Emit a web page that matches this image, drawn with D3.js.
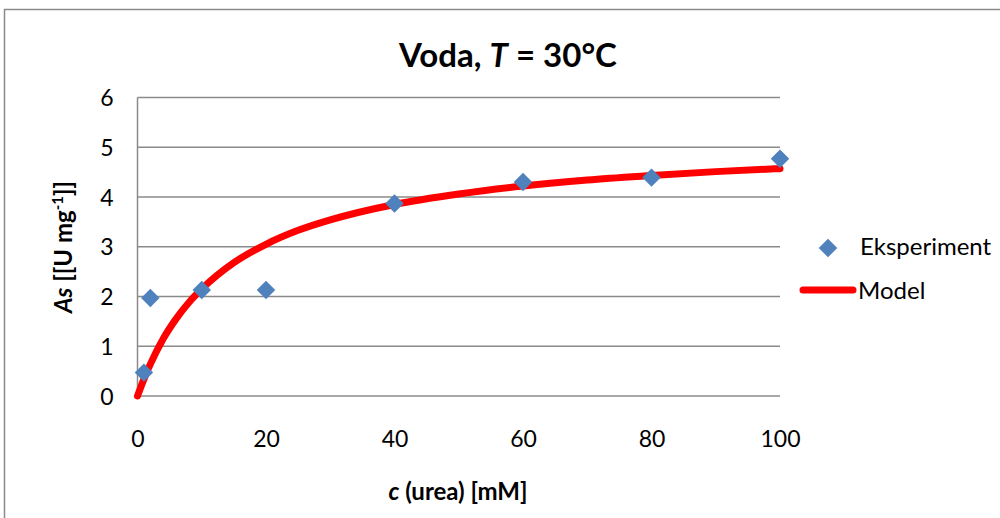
<!DOCTYPE html>
<html><head><meta charset="utf-8">
<script src="https://cdn.jsdelivr.net/npm/d3@7"></script>
<style>body{margin:0;background:#fff}svg{display:block;font-family:Lato,"Open Sans",sans-serif}</style>
</head><body><svg id="c" width="1000" height="518"></svg>
<script>
// Data
const expC = [1, 2, 10, 20, 40, 60, 80, 100];
const expAs = [0.47, 1.97, 2.13, 2.13, 3.87, 4.30, 4.39, 4.77];
const modelC = [0, 1, 2, 4, 6, 8, 10, 15, 20, 25, 30, 40, 50, 60, 70, 80, 90, 100];
const modelAs = [0, 0.34, 0.64, 1.15, 1.55, 1.88, 2.15, 2.68, 3.05, 3.33, 3.54, 3.85, 4.06, 4.22, 4.34, 4.43, 4.51, 4.57];
const xTicks = [0, 20, 40, 60, 80, 100];
const yTicks = [0, 1, 2, 3, 4, 5, 6];
const seriesNames = ["Eksperiment", "Model"];

const svg = d3.select("#c");
const W = 1000, H = 518;
const x = d3.scaleLinear().domain([0, 100]).range([137.5, 780]);
const y = d3.scaleLinear().domain([0, 6]).range([396, 97.5]);
const grid = "#8a8a8a";

// outer border
svg.append("rect").attr("x", 4.5).attr("y", 9.5).attr("width", W).attr("height", H)
  .attr("fill", "none").attr("stroke", "#8a8a8a").attr("stroke-width", 1.5);

// gridlines
svg.append("g").selectAll("line").data(yTicks).join("line")
  .attr("x1", x(0)).attr("x2", x(100)).attr("y1", d => y(d)).attr("y2", d => y(d))
  .attr("stroke", grid).attr("stroke-width", 1.5);
svg.append("line").attr("x1", x(0)).attr("x2", x(0)).attr("y1", y(0)).attr("y2", y(6))
  .attr("stroke", grid).attr("stroke-width", 1.5);

// y tick labels
const yAxis = svg.append("g").attr("transform", `translate(${x(0)},0)`)
  .call(d3.axisLeft(y).tickValues(yTicks).tickFormat(d3.format("d")).tickSize(0).tickPadding(24));
yAxis.select(".domain").remove();
yAxis.selectAll("text").attr("font-size", 23).attr("fill", "#000").attr("font-family", "Lato").attr("dy", "0.35em");

// x tick labels
const xAxis = svg.append("g").attr("transform", `translate(0,${y(0)})`)
  .call(d3.axisBottom(x).tickValues(xTicks).tickFormat(d3.format("d")).tickSize(0).tickPadding(51));
xAxis.select(".domain").remove();
xAxis.selectAll("text").attr("font-size", 23).attr("fill", "#000").attr("font-family", "Lato").attr("dy", "0");

// model line
const line = d3.line().x(d => x(d[0])).y(d => y(d[1])).curve(d3.curveMonotoneX);
svg.append("path").datum(modelC.map((c, i) => [c, modelAs[i]]))
  .attr("d", line).attr("fill", "none").attr("stroke", "#ff0000").attr("stroke-width", 7)
  .attr("stroke-linecap", "round");

// experiment diamonds
const diamond = d3.symbol().type(d3.symbolSquare).size(170);
svg.append("g").selectAll("path").data(expC.map((c, i) => [c, expAs[i]])).join("path")
  .attr("d", diamond)
  .attr("transform", d => `translate(${x(d[0])},${y(d[1])}) rotate(45)`)
  .attr("fill", "#4f81bd");

// title
const t = svg.append("text").attr("x", 508).attr("y", 67).attr("text-anchor", "middle")
  .attr("font-size", 33).attr("font-weight", "bold");
t.append("tspan").text("Voda, ");
t.append("tspan").attr("font-style", "italic").text("T");
t.append("tspan").text(" = 30°C");

// x axis title
const xt = svg.append("text").attr("x", 458).attr("y", 500).attr("text-anchor", "middle")
  .attr("font-size", 24).attr("font-weight", "bold");
xt.append("tspan").attr("font-style", "italic").text("c");
xt.append("tspan").text(" (urea) [mM]");

// y axis title
const yt = svg.append("text").attr("transform", "translate(72,247) rotate(-90)")
  .attr("text-anchor", "middle").attr("font-size", 24).attr("font-weight", "bold");
yt.append("tspan").attr("font-style", "italic").text("As");
yt.append("tspan").text(" [[U mg");
yt.append("tspan").attr("font-size", 15).attr("dy", -9).text("-1");
yt.append("tspan").attr("dy", 9).text("]]");

// legend
svg.append("path").attr("d", diamond).attr("transform", "translate(828,248) rotate(45)").attr("fill", "#4f81bd");
svg.append("text").attr("x", 860).attr("y", 255).attr("font-size", 24).text(seriesNames[0]);
svg.append("line").attr("x1", 803).attr("x2", 853).attr("y1", 290).attr("y2", 290)
  .attr("stroke", "#ff0000").attr("stroke-width", 7).attr("stroke-linecap", "round");
svg.append("text").attr("x", 858).attr("y", 299).attr("font-size", 24).text(seriesNames[1]);
</script></body></html>
